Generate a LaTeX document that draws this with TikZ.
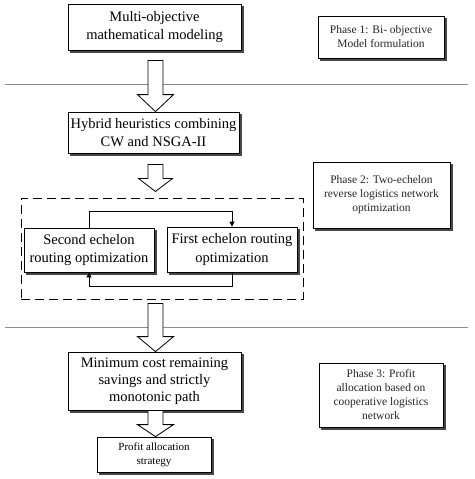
\documentclass[tikz,border=0pt]{standalone}
\usepackage{fontspec}
\setmainfont{Liberation Serif}
\usetikzlibrary{arrows.meta,calc,backgrounds}
\newcommand{\blockarrow}[4]{%
  \draw[barrow] let \p1=(#1),\p2=(#2) in
    (\x1-7.5pt,\y1) -- (\x1+7.5pt,\y1) -- (\x1+7.5pt,\y2+#3) -- (\x1+#4,\y2+#3)
    -- (\x1,\y2) -- (\x1-#4,\y2+#3) -- (\x1-7.5pt,\y2+#3) -- cycle;}
\begin{document}
\begin{tikzpicture}[x=1pt,y=-1pt,
  box/.style={draw,fill=white,line width=0.8pt,align=center,inner sep=0pt},
  shadowfill/.style={fill=black!72},
  bigfont/.style={font=\fontsize{14.5pt}{18.5pt}\selectfont},
  smallfont/.style={font=\fontsize{11.5pt}{14pt}\selectfont,text=black!85},
  barrow/.style={draw,fill=white,line width=0.8pt},
  sepline/.style={draw=black!45,line width=1pt},
  dashbox/.style={draw,line width=1pt,dash pattern=on 9pt off 5pt,inner sep=0pt},
  loop/.style={draw,line width=0.8pt,-{Triangle[length=5pt,width=5pt]}}
]
\useasboundingbox (0,0) rectangle (474,479);
% main boxes
\node[box,bigfont,minimum width=173pt,minimum height=46pt] (b1) at (154.5,27)
  {Multi-objective\\mathematical modeling};
\node[box,bigfont,minimum width=171pt,minimum height=41pt] (b2) at (153.5,132.5)
  {Hybrid heuristics combining\\CW and NSGA-II};
\node[dashbox,minimum width=282pt,minimum height=101pt] (dash) at (162,248.5) {};
\node[box,bigfont,minimum width=130pt,minimum height=44pt] (s) at (89,250)
  {Second echelon\\routing optimization};
\node[box,bigfont,minimum width=130pt,minimum height=45pt] (f) at (232,249.5)
  {First echelon routing\\optimization};
\node[box,font=\fontsize{14.5pt}{17pt}\selectfont,minimum width=173pt,minimum height=58pt] (b3) at (154.5,381)
  {Minimum cost remaining\\savings and strictly\\monotonic path};
\node[box,font=\fontsize{11pt}{14pt}\selectfont,minimum width=114pt,minimum height=35pt] (b4) at (154,454.5)
  {Profit allocation\\strategy};
% phase boxes
\node[box,smallfont,minimum width=126pt,minimum height=42pt] (p1) at (381,37)
  {Phase 1: Bi- objective\\Model formulation};
\node[box,smallfont,minimum width=137pt,minimum height=66pt] (p2) at (381.5,195)
  {Phase 2: Two-echelon\\reverse logistics network\\optimization};
\node[box,smallfont,minimum width=124pt,minimum height=64pt] (p3) at (381,395)
  {Phase 3: Profit\\allocation based on\\cooperative logistics\\network};
% shadows and separator lines behind
\begin{scope}[on background layer]
  \foreach \n in {b1,b2,s,f,b3,b4,p1,p2,p3}
    \fill[shadowfill] ($(\n.north west)+(2.5,2.5)$) rectangle ($(\n.south east)+(2.5,2.5)$);
  \coordinate (l1a) at (5,84); \coordinate (l1b) at (468,84);
  \coordinate (l2a) at (5,327); \coordinate (l2b) at (468,327);
  \draw[sepline] (l1a) -- (l1b);
  \draw[sepline] (l2a) -- (l2b);
\end{scope}
% loop connectors
\draw[loop] (s.north) -- ++(0,-16) -| (f.north);
\draw[loop] (f.south) -- ++(0,14) -| (s.south);
% block arrows
\coordinate (a1s) at ($(b1.south)+(1,10)$);
\coordinate (a2s) at ($(b2.south)+(2,11)$);
\coordinate (a2t) at ($(dash.north)+(0,-6)$);
\coordinate (a3s) at ($(dash.south)+(-6.5,4)$);
\coordinate (a4s) at ($(b3.south)+(1,0)$);
\blockarrow{a1s}{b2.north}{17pt}{18pt}
\blockarrow{a2s}{a2t}{13pt}{17pt}
\blockarrow{a3s}{b3.north}{15pt}{18pt}
\blockarrow{a4s}{b4.north}{12pt}{18pt}
\end{tikzpicture}
\end{document}
